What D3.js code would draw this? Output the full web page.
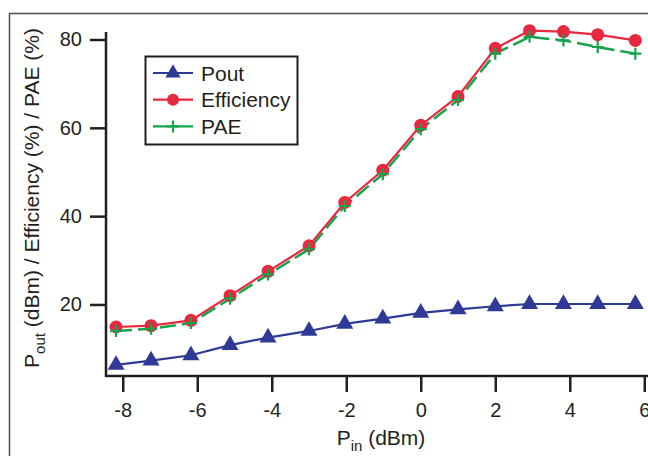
<!DOCTYPE html>
<meta charset="utf-8">
<script src="https://d3js.org/d3.v7.min.js"></script>
<style>
  body { margin: 0; background: #fff; }
  text { font-family: "Liberation Sans", Arial, sans-serif; fill: #231f20; }
</style>
<div id="chart"></div>
<script>
    const pin = [-8.18, -7.24, -6.17, -5.12, -4.1, -3.0, -2.04, -1.02, 0, 1.0, 2.0, 2.92, 3.83, 4.75, 5.76];
    const pout = [6.3, 7.3, 8.5, 10.8, 12.5, 14.0, 15.6, 16.8, 18.1, 18.9, 19.6, 20.1, 20.1, 20.1, 20.1];
    const efficiency = [14.9, 15.2, 16.4, 22.0, 27.5, 33.3, 43.1, 50.4, 60.6, 67.1, 78.0, 82.0, 81.8, 81.1, 79.8];
    const pae = [14.0, 14.5, 15.8, 21.3, 26.8, 32.5, 42.3, 49.5, 59.7, 66.3, 76.8, 80.6, 79.8, 78.3, 76.8];
    const xTicks = [-8, -6, -4, -2, 0, 2, 4, 6];
    const yTicks = [20, 40, 60, 80];

    const width = 648, height = 456;
    const margin = {top: 32, right: 0, bottom: 80, left: 106};

    const svg = d3.select("#chart")
      .append("svg")
        .attr("width", width)
        .attr("height", height);

    // outer frame of the figure
    svg.append("path")
        .attr("d", "M9.5,460 V13.5 H660")
        .attr("fill", "none")
        .attr("stroke", "#4d4d4d")
        .attr("stroke-width", 1.5);

    const x = d3.scaleLinear()
        .domain([-8.45, 6.1])
        .range([margin.left, width - margin.right]);
    const y = d3.scaleLinear()
        .domain([3.8, 81.7])
        .range([376, margin.top]);

    const xAxis = svg.append("g")
        .attr("transform", "translate(0,376)")
        .call(d3.axisBottom(x).tickValues(xTicks).tickSize(16).tickSizeOuter(0).tickPadding(11)
            .tickFormat(d => d < 0 ? "-" + Math.abs(d) : d));
    const yAxis = svg.append("g")
        .attr("transform", `translate(${margin.left},0)`)
        .call(d3.axisLeft(y).tickValues(yTicks).tickSize(16).tickSizeOuter(0).tickPadding(8));

    [xAxis, yAxis].forEach(g => {
        g.select(".domain").attr("stroke", "#231f20").attr("stroke-width", 2.5);
        g.selectAll(".tick line").attr("stroke", "#231f20").attr("stroke-width", 2.5);
        g.selectAll(".tick text").attr("font-size", 20).style("font-family", "Liberation Sans, Arial, sans-serif").attr("fill", "#231f20");
    });
    xAxis.select(".domain").attr("d", `M${margin.left},0H${width + 2}`);
    yAxis.select(".domain").attr("d", `M0,${margin.top}V377`);

    const colors = {pout: "#2e3a96", eff: "#e8283f", pae: "#16a34a"};

    const line = d3.line().x((d, i) => x(pin[i])).y(d => y(d));

    // PAE (dashed green with plus markers)
    svg.append("path").datum(pae)
        .attr("d", line).attr("fill", "none")
        .attr("stroke", colors.pae).attr("stroke-width", 2.5)
        .attr("stroke-dasharray", "16,6");
    // Efficiency
    svg.append("path").datum(efficiency)
        .attr("d", line).attr("fill", "none")
        .attr("stroke", colors.eff).attr("stroke-width", 2.2);
    svg.selectAll(".eff").data(efficiency).join("circle")
        .attr("cx", (d, i) => x(pin[i])).attr("cy", d => y(d))
        .attr("r", 6.5).attr("fill", colors.eff);
    svg.selectAll(".plus").data(pae).join("path")
        .attr("transform", (d, i) => `translate(${x(pin[i])},${y(d)})`)
        .attr("d", "M-6,0H6M0,-6V6")
        .attr("stroke", colors.pae).attr("stroke-width", 2.2);
    // Pout
    svg.append("path").datum(pout)
        .attr("d", line).attr("fill", "none")
        .attr("stroke", colors.pout).attr("stroke-width", 2.2);
    svg.selectAll(".tri").data(pout).join("path")
        .attr("transform", (d, i) => `translate(${x(pin[i])},${y(d)})`)
        .attr("d", d3.symbol(d3.symbolTriangle, 125))
        .attr("fill", colors.pout);

    // axis titles
    const xt = svg.append("text")
        .attr("x", 381).attr("y", 445)
        .attr("text-anchor", "middle").attr("font-size", 21);
    xt.append("tspan").text("P");
    xt.append("tspan").attr("font-size", 15).attr("dy", 6).text("in");
    xt.append("tspan").attr("dy", -6).text(" (dBm)");

    const yt = svg.append("text")
        .attr("transform", "translate(39,198) rotate(-90)")
        .attr("text-anchor", "middle").attr("font-size", 21);
    yt.append("tspan").text("P");
    yt.append("tspan").attr("font-size", 15).attr("dy", 6).text("out");
    yt.append("tspan").attr("dy", -6).text(" (dBm) / Efficiency (%) / PAE (%)");

    // legend
    const legend = svg.append("g");
    legend.append("rect")
        .attr("x", 145.5).attr("y", 56.5).attr("width", 152).attr("height", 88)
        .attr("fill", "#fff").attr("stroke", "#231f20").attr("stroke-width", 2);
    const items = [
        {name: "Pout", color: colors.pout, mark: "tri"},
        {name: "Efficiency", color: colors.eff, mark: "circle"},
        {name: "PAE", color: colors.pae, mark: "plus"}
    ];
    items.forEach((it, i) => {
        const cy = 73 + i * 26.7;
        legend.append("line")
            .attr("x1", 153).attr("x2", 193).attr("y1", cy).attr("y2", cy)
            .attr("stroke", it.color).attr("stroke-width", 2.2);
        if (it.mark === "tri") {
            legend.append("path").attr("transform", `translate(173,${cy})`)
                .attr("d", d3.symbol(d3.symbolTriangle, 100)).attr("fill", it.color);
        } else if (it.mark === "circle") {
            legend.append("circle").attr("cx", 173).attr("cy", cy).attr("r", 6).attr("fill", it.color);
        } else {
            legend.append("path").attr("transform", `translate(173,${cy})`)
                .attr("d", "M-6,0H6M0,-6V6").attr("stroke", it.color).attr("stroke-width", 2.2);
        }
        legend.append("text")
            .attr("x", 201).attr("y", cy + 7.5)
            .attr("font-size", 21).text(it.name);
    });
</script>
